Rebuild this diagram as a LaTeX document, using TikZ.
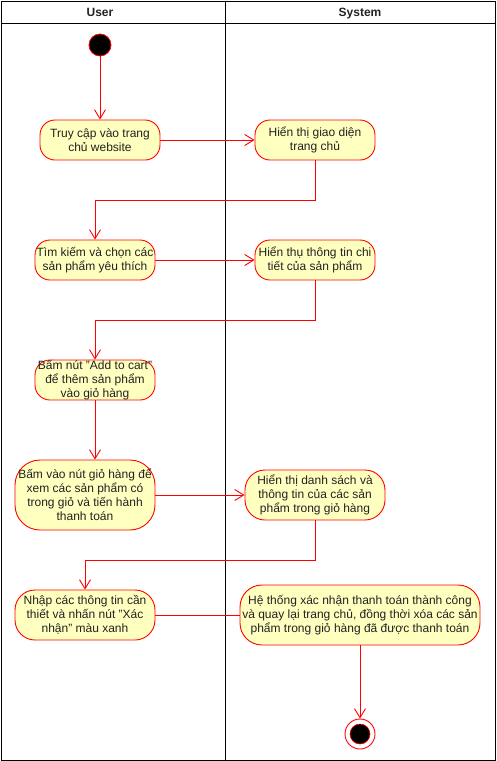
\documentclass[tikz,border=0pt]{standalone}
\usepackage{fontspec}
\setmainfont{Liberation Sans}
\usetikzlibrary{arrows.meta}
\definecolor{actfill}{HTML}{FFFFC0}
\definecolor{txt}{HTML}{222222}
\begin{document}
\begin{tikzpicture}[x=1pt,y=-1pt,
  act/.style={draw=red, fill=actfill, line width=0.9pt, rectangle, rounded corners=#1,
     inner sep=0pt, align=center, text=txt, font=\fontsize{12}{14}\selectfont},
  act/.default=15pt,
  arr/.style={draw=red, line width=0.9pt, -{Straight Barb[length=9pt,width=11pt]}},
  lin/.style={draw=red, line width=0.9pt},
  lane/.style={draw=black, line width=1pt},
  head/.style={font=\fontsize{12}{14}\selectfont\bfseries, text=txt, anchor=base, inner sep=0pt}]
\useasboundingbox (0,0) rectangle (496,761);
% swimlanes
\draw[lane] (1,1) rectangle (495,760);
\draw[lane] (1,23) -- (495,23);
\draw[lane] (225,1) -- (225,760);
\node[head] (hUser) at (100,16.5) {User};
\node[head] (hSys) at (360,16.5) {System};
% start
\node[circle, fill=black, draw=red, line width=0.8pt, minimum size=22pt, inner sep=0pt] (start) at (100,45) {};
% activities
\node[act, minimum width=120pt, minimum height=40pt] (n1) at (100,140) {Truy cập vào trang\\chủ website};
\node[act, minimum width=120pt, minimum height=40pt] (n2) at (315,140) {Hiển thị giao diện\\trang chủ};
\node[act, minimum width=120pt, minimum height=40pt] (n3) at (95,260) {Tìm kiếm và chọn các\\sản phẩm yêu thích};
\node[act, minimum width=120pt, minimum height=40pt] (n4) at (315,260) {Hiển thụ thông tin chi\\tiết của sản phẩm};
\node[act, minimum width=120pt, minimum height=40pt] (n5) at (95,380) {Bấm nút "Add to cart"\\để thêm sản phẩm\\vào giỏ hàng};
\node[act=25pt, minimum width=140pt, minimum height=70pt] (n6) at (85,495) {Bấm vào nút giỏ hàng để\\xem các sản phẩm có\\trong giỏ và tiến hành\\thanh toán};
\node[act=20pt, minimum width=140pt, minimum height=50pt] (n7) at (315,495) {Hiển thị danh sách và\\thông tin của các sản\\phẩm trong giỏ hàng};
\node[act=20pt, minimum width=140pt, minimum height=50pt] (n8) at (85,615) {Nhập các thông tin cần\\thiết và nhấn nút "Xác\\nhận" màu xanh};
\node[act=22pt, minimum width=240pt, minimum height=60pt] (n9) at (360,615) {Hệ thống xác nhận thanh toán thành công\\và quay lại trang chủ, đồng thời xóa các sản\\phẩm trong giỏ hàng đã được thanh toán};
% end
\node[circle, draw=red, fill=white, line width=0.9pt, minimum size=30pt, inner sep=0pt] (end) at (360,734) {};
\fill[black, draw=red, line width=0.6pt] (end.center) circle (10pt);
% edges
\draw[arr] (start) -- (n1);
\draw[arr] (n1) -- (n2);
\draw[arr] (n2.south) -- ++(0,40) -| (n3.north);
\draw[arr] (n3) -- (n4);
\draw[arr] (n4.south) -- ++(0,40) -| (n5.north);
\draw[arr] (n5.south) -- (n5.south |- n6.north);
\draw[arr] (n6) -- (n7);
\draw[arr] (n7.south) -- ++(0,40) -| (n8.north);
\draw[lin] (n8) -- (n9);
\draw[arr] (n9) -- (end);
\end{tikzpicture}
\end{document}
